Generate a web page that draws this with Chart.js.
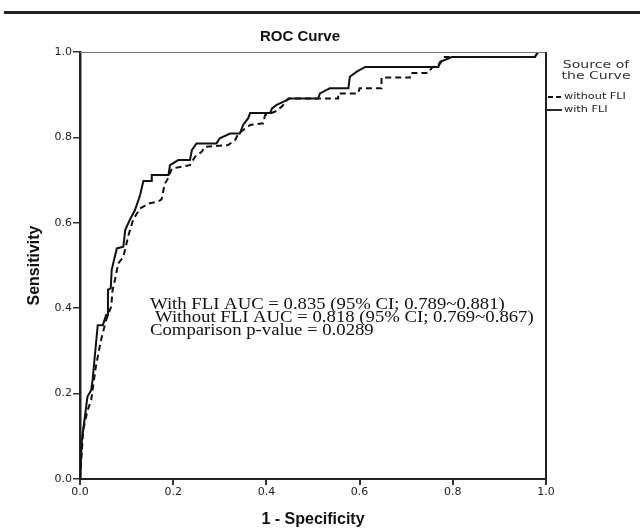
<!DOCTYPE html>
<html>
<head>
<meta charset="utf-8">
<script src="https://cdn.jsdelivr.net/npm/chart.js@4/dist/chart.umd.min.js"></script>
<style>
  html, body { margin: 0; padding: 0; background: #fff; }
  #wrap { width: 640px; height: 529px; position: relative; }
</style>
</head>
<body>
<div id="wrap"><canvas id="c" width="640" height="529"></canvas></div>
<script>
// ---- data ----
const TITLE = "ROC Curve";
const X_TITLE = "1 - Specificity";
const Y_TITLE = "Sensitivity";
const LEGEND_TITLE = ["Source of", "the Curve"];
const SERIES_NAMES = ["without FLI", "with FLI"];
const NOTES = [
  "With FLI AUC = 0.835 (95% CI; 0.789~0.881)",
  "Without FLI AUC = 0.818 (95% CI; 0.769~0.867)",
  "Comparison p-value = 0.0289"
];
const TICKS = [0, 0.2, 0.4, 0.6, 0.8, 1.0];

const withFpr = [0, 0.004, 0.016, 0.024, 0.027, 0.038, 0.049, 0.056, 0.060, 0.060, 0.066, 0.068, 0.079, 0.093, 0.097, 0.107, 0.118, 0.129, 0.136, 0.154, 0.154, 0.190, 0.193, 0.211, 0.236, 0.240, 0.250, 0.293, 0.300, 0.322, 0.343, 0.350, 0.361, 0.365, 0.408, 0.412, 0.422, 0.436, 0.450, 0.511, 0.515, 0.536, 0.576, 0.579, 0.594, 0.612, 0.769, 0.773, 0.798, 0.976, 0.983, 1.0];
const withTpr = [0, 0.091, 0.193, 0.208, 0.232, 0.360, 0.360, 0.384, 0.384, 0.443, 0.447, 0.490, 0.540, 0.544, 0.583, 0.607, 0.630, 0.665, 0.698, 0.698, 0.712, 0.712, 0.735, 0.747, 0.747, 0.770, 0.786, 0.786, 0.798, 0.809, 0.809, 0.829, 0.845, 0.857, 0.857, 0.868, 0.876, 0.883, 0.891, 0.891, 0.903, 0.915, 0.915, 0.942, 0.954, 0.965, 0.965, 0.977, 0.988, 0.988, 1.0, 1.0];

const withoutFpr = [0, 0.007, 0.016, 0.024, 0.034, 0.045, 0.056, 0.067, 0.070, 0.075, 0.082, 0.093, 0.104, 0.114, 0.129, 0.150, 0.168, 0.175, 0.182, 0.187, 0.197, 0.236, 0.247, 0.261, 0.268, 0.318, 0.333, 0.340, 0.365, 0.393, 0.397, 0.418, 0.433, 0.447, 0.554, 0.554, 0.597, 0.600, 0.647, 0.647, 0.708, 0.710, 0.747, 0.755, 0.773, 0.780, 0.976, 0.983, 1.0];
const withoutTpr = [0, 0.115, 0.160, 0.185, 0.263, 0.325, 0.372, 0.404, 0.443, 0.466, 0.505, 0.520, 0.571, 0.607, 0.634, 0.646, 0.650, 0.655, 0.692, 0.700, 0.727, 0.735, 0.755, 0.766, 0.778, 0.782, 0.794, 0.809, 0.829, 0.833, 0.852, 0.860, 0.872, 0.891, 0.891, 0.903, 0.903, 0.915, 0.915, 0.940, 0.940, 0.951, 0.951, 0.963, 0.973, 0.988, 0.988, 1.0, 1.0];

const toPts = (xs, ys) => xs.map((x, i) => ({ x: x, y: ys[i] }));

function stretchText(ctx, text, x, y, sx) {
  ctx.save();
  ctx.translate(x, y);
  ctx.scale(sx, 1);
  ctx.fillText(text, 0, 0);
  ctx.restore();
}

const decor = {
  id: 'decor',
  afterDraw(chart) {
    const ctx = chart.ctx;
    const a = chart.chartArea;
    ctx.save();
    // top rule
    ctx.fillStyle = '#222';
    ctx.fillRect(4, 11, 636, 3);
    // title
    ctx.fillStyle = '#111';
    ctx.font = 'bold 15px "Liberation Sans", Arial, sans-serif';
    ctx.textAlign = 'center';
    ctx.textBaseline = 'middle';
    ctx.fillText(TITLE, 300, 37);
    // frame: top (grey) and right
    ctx.strokeStyle = '#777';
    ctx.lineWidth = 1;
    ctx.beginPath();
    ctx.moveTo(a.left, a.top + 0.5);
    ctx.lineTo(a.right, a.top + 0.5);
    ctx.stroke();
    ctx.strokeStyle = '#222';
    ctx.lineWidth = 2;
    ctx.beginPath();
    ctx.moveTo(a.right, a.top);
    ctx.lineTo(a.right, a.bottom);
    ctx.stroke();
    // legend
    ctx.fillStyle = '#333';
    ctx.font = '11px "DejaVu Sans", sans-serif';
    ctx.textAlign = 'center';
    stretchText(ctx, LEGEND_TITLE[0], 596, 65, 1.28);
    stretchText(ctx, LEGEND_TITLE[1], 596, 76, 1.28);
    ctx.fillStyle = '#222';
    ctx.font = '9px "DejaVu Sans", sans-serif';
    ctx.textAlign = 'left';
    stretchText(ctx, SERIES_NAMES[0], 564, 97, 1.25);
    stretchText(ctx, SERIES_NAMES[1], 564, 110, 1.25);
    ctx.strokeStyle = '#111';
    ctx.lineWidth = 1.8;
    ctx.setLineDash([5, 3]);
    ctx.beginPath(); ctx.moveTo(548, 97); ctx.lineTo(561, 97); ctx.stroke();
    ctx.setLineDash([]);
    ctx.beginPath(); ctx.moveTo(547, 110); ctx.lineTo(562, 110); ctx.stroke();
    // annotation
    ctx.fillStyle = '#111';
    ctx.font = '16px "Liberation Serif", "Times New Roman", serif';
    ctx.textAlign = 'left';
    ctx.textBaseline = 'middle';
    stretchText(ctx, NOTES[0], 150, 305, 1.17);
    stretchText(ctx, NOTES[1], 155, 318, 1.17);
    stretchText(ctx, NOTES[2], 150, 331, 1.17);
    ctx.restore();
  }
};

const tickFont = { family: '"DejaVu Sans", sans-serif', size: 11 };
const axisTitleFont = { family: '"Liberation Sans", Arial, sans-serif', size: 16, weight: 'bold', lineHeight: 1.2 };

new Chart(document.getElementById('c'), {
  type: 'line',
  data: {
    datasets: [
      {
        label: SERIES_NAMES[0],
        data: toPts(withoutFpr, withoutTpr),
        borderColor: '#111',
        borderWidth: 2,
        borderDash: [6, 4],
        pointRadius: 0,
        tension: 0,
        fill: false
      },
      {
        label: SERIES_NAMES[1],
        data: toPts(withFpr, withTpr),
        borderColor: '#111',
        borderWidth: 2,
        pointRadius: 0,
        tension: 0,
        fill: false
      }
    ]
  },
  options: {
    responsive: false,
    animation: false,
    devicePixelRatio: 1,
    layout: { padding: { top: 52, left: 0, right: 94, bottom: 0 } },
    plugins: {
      legend: { display: false },
      title: { display: false },
      tooltip: { enabled: false }
    },
    scales: {
      x: {
        type: 'linear',
        min: 0, max: 1,
        afterBuildTicks: s => { s.ticks = TICKS.map(v => ({ value: v })); },
        afterFit: s => { s.height = 50; },
        ticks: { font: tickFont, color: '#222', padding: 1, maxRotation: 0, callback: v => v.toFixed(1) },
        grid: { display: true, drawOnChartArea: false, drawTicks: true, tickLength: 6, color: '#333', lineWidth: 2 },
        border: { display: true, color: '#222', width: 2 },
        title: { display: true, text: X_TITLE, font: axisTitleFont, color: '#111', padding: { top: 0, bottom: 0 } }
      },
      y: {
        type: 'linear',
        min: 0, max: 1,
        afterBuildTicks: s => { s.ticks = TICKS.map(v => ({ value: v })); },
        afterFit: s => { s.width = 80; },
        ticks: { font: tickFont, color: '#222', padding: 1, callback: v => v.toFixed(1) },
        grid: { display: true, drawOnChartArea: false, drawTicks: true, tickLength: 7, color: '#333', lineWidth: 1.5 },
        border: { display: true, color: '#222', width: 2.5 },
        title: { display: true, text: Y_TITLE, font: axisTitleFont, color: '#111', padding: { top: 25, bottom: 0 } }
      }
    }
  },
  plugins: [decor]
});
</script>
</body>
</html>
